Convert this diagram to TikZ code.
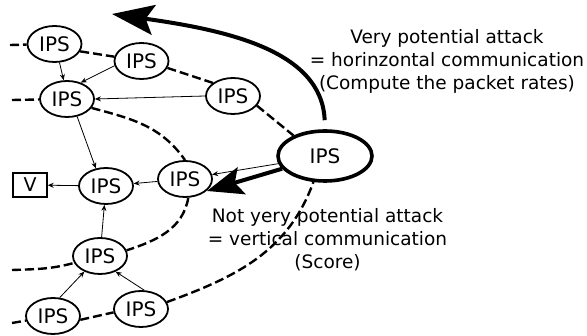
\documentclass[tikz,border=0pt]{standalone}
\usepackage{fontspec}
\setmainfont{DejaVu Sans}
\usetikzlibrary{shapes.geometric,arrows.meta}
\begin{document}
\begin{tikzpicture}[x=1pt,y=1pt,
  ips/.style={ellipse,draw,line width=1.8pt,minimum width=54pt,minimum height=36pt,inner sep=0pt,font=\fontsize{20}{22}\selectfont},
  bigips/.style={ips,line width=3.6pt,minimum width=94pt,minimum height=50pt},
  vbox/.style={draw,line width=1.4pt,minimum width=34pt,minimum height=24pt,inner sep=0pt,font=\fontsize{19}{22}\selectfont},
  link/.style={line width=2.4pt,dash pattern=on 9pt off 4pt},
  thinarrow/.style={line width=0.8pt,-{Stealth[length=6pt,width=5pt]}},
  bigarrowA/.style={line width=4pt,-{Stealth[length=42pt,width=30pt,inset=8pt]}},
  bigarrowB/.style={line width=4pt,-{Stealth[length=36pt,width=28pt,inset=7pt]}},
  lbl/.style={align=center,font=\fontsize{18.5}{23}\selectfont}]
\useasboundingbox (0,0) rectangle (587,-336);
% nodes
\node[ips] (A) at (54.5,-44) {IPS};
\node[ips] (B) at (141.5,-61) {IPS};
\node[ips] (C) at (67,-99) {IPS};
\node[ips] (D) at (233,-96) {IPS};
\node[bigips] (E) at (325,-156) {IPS};
\node[ips] (F) at (185,-179) {IPS};
\node[ips] (G) at (106,-186) {IPS};
\node[vbox] (V) at (30,-185) {V};
\node[ips] (H) at (100,-256) {IPS};
\node[ips] (I) at (53,-316) {IPS};
\node[ips] (J) at (141,-309) {IPS};
\node[lbl] (top) at (447,-61) {Very potential attack\\= horinzontal communication\\(Compute the packet rates)};
\node[lbl] (bot) at (327.5,-240) {Not yery potential attack\\= vertical communication\\(Score)};
% free ends
\coordinate (sA) at (10,-45);
\coordinate (sC) at (12,-100);
\coordinate (sH) at (12,-270);
\coordinate (sI) at (12,-323);
\coordinate (t1) at (112,-14);
\coordinate (t2) at (207,-191);
% dashed links
\draw[link] (sA) -- (A);
\draw[link] (A.-16) -- (B.171);
\draw[link] (B.-15) -- (D.147);
\draw[link] (D.-22) -- (E.147);
\draw[link] (sC) -- (C);
\draw[link] (C.-20) to[out=-15,in=125] (F.north);
\draw[link] (F.-80) to[out=-100,in=18] (H.12);
\draw[link] (sH) to[out=2,in=195] (H.195);
\draw[link] (sI) -- (I);
\draw[link] (I.-8) -- (J.187);
\draw[link] (J.15) to[out=20,in=-110] (E.-114);
% thin arrows
\draw[thinarrow] (A.-75) -- (C.100);
\draw[thinarrow] (B.190) -- (C.50);
\draw[thinarrow] (D.west) -- (C.east);
\draw[thinarrow] (C.-60) -- (G.120);
\draw[thinarrow] (E) -- (F);
\draw[thinarrow] (F) -- (G);
\draw[thinarrow] (G) -- (V);
\draw[thinarrow] (H) -- (G);
\draw[thinarrow] (I.70) -- (H.-135);
\draw[thinarrow] (J.80) -- (H.-45);
% thick arrows
\draw[bigarrowA,shorten <=9pt] (E.north) .. controls (322,-50) and (225,-30) .. (t1);
\draw[bigarrowB] (E) -- (t2);
\end{tikzpicture}
\end{document}
